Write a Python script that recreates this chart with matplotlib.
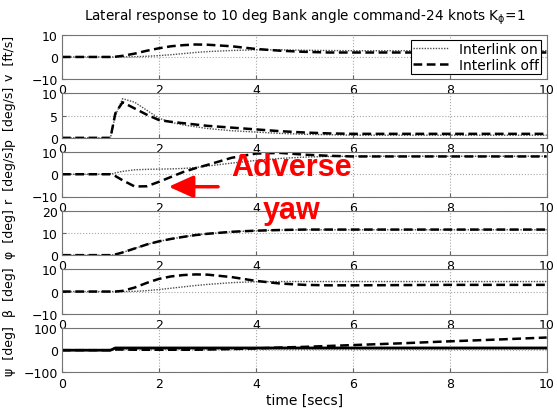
import matplotlib
matplotlib.use("Agg")
import matplotlib.pyplot as plt
import numpy as np

plt.rcParams['font.family'] = ['DejaVu Sans']

# sample times (s)
t = [0, 1.0, 1.1, 1.25, 1.5, 1.75, 2.0, 2.25, 2.5, 2.75, 3.0, 3.5, 4.0, 4.5, 5.0, 5.5, 6, 7, 8, 9, 10]

v_on = [0, 0, 0, 0, 0.1, 0.3, 0.6, 1.0, 1.5, 2.0, 2.4, 2.9, 3.2, 3.2, 3.0, 2.9, 2.8, 2.8, 2.8, 2.8, 2.8]
v_off = [0, 0, 0.1, 0.5, 1.5, 2.8, 3.9, 4.8, 5.3, 5.6, 5.5, 4.8, 3.6, 2.8, 2.3, 2.0, 2.0, 2.0, 2.0, 2.0, 2.0]

p_on = [0, 0, 5.0, 8.8, 8.0, 6.2, 4.4, 3.5, 2.9, 2.5, 2.1, 1.6, 1.3, 1.0, 0.8, 0.7, 0.6, 0.6, 0.6, 0.6, 0.6]
p_off = [0, 0, 5.5, 8.0, 6.6, 5.2, 4.0, 3.6, 3.3, 3.0, 2.7, 2.3, 1.9, 1.5, 1.2, 1.0, 0.9, 0.9, 0.9, 0.9, 0.9]

r_on = [0, 0, 0.6, 1.3, 2.0, 2.2, 2.3, 2.4, 2.6, 3.0, 3.7, 5.0, 6.2, 7.1, 7.7, 8.0, 8.1, 8.1, 8.1, 8.1, 8.1]
r_off = [0, 0, -0.8, -2.7, -5.5, -5.4, -3.4, -1.2, 1.0, 2.7, 4.2, 7.4, 9.3, 9.6, 8.8, 8.3, 8.0, 8.0, 8.0, 8.0, 8.0]

phi_on = [0, 0, 0.3, 1.2, 3.0, 4.8, 6.2, 7.3, 8.2, 9.0, 9.6, 10.5, 11.0, 11.3, 11.4, 11.4, 11.4, 11.4, 11.4, 11.4, 11.4]
phi_off = [0, 0, 0.3, 1.2, 3.0, 4.8, 6.2, 7.3, 8.2, 9.0, 9.6, 10.5, 11.0, 11.3, 11.5, 11.5, 11.5, 11.5, 11.5, 11.5, 11.5]

beta_on = [0, 0, 0, 0, 0.1, 0.4, 0.9, 1.5, 2.1, 2.7, 3.2, 4.0, 4.4, 4.5, 4.5, 4.5, 4.5, 4.5, 4.5, 4.5, 4.5]
beta_off = [0, 0, 0, 0.3, 1.8, 3.9, 5.7, 6.8, 7.4, 7.7, 7.6, 6.5, 4.8, 3.6, 3.0, 2.8, 2.8, 2.9, 3.0, 3.0, 3.0]

psi_on = [0, 0, 6, 6, 6, 6, 6, 6, 6, 6, 6, 6, 6, 6, 6, 6, 6, 6, 6, 6, 6]
psi_off = [0, 0, 3, 3, 2, 2, 2, 2, 2, 2, 3, 5, 8, 12, 15, 19, 23, 31, 40, 48, 57]
psi_cmd = [0, 0, 10, 10, 10, 10, 10, 10, 10, 10, 10, 10, 10, 10, 10, 10, 10, 10, 10, 10, 10]

ylabels = ["v  [ft/s]", "p  [deg/s]", "r  [deg/s]", "\u03c6  [deg]", "\u03b2  [deg]", "\u03c8  [deg]"]
yticks = [[-10, 0, 10], [0, 5, 10], [-10, 0, 10], [0, 10, 20], [-10, 0, 10], [-100, 0, 100]]
on_series = [v_on, p_on, r_on, phi_on, beta_on, psi_on]
off_series = [v_off, p_off, r_off, phi_off, beta_off, psi_off]

W, H = 557, 410
fig = plt.figure(figsize=(W / 100, H / 100), dpi=100)

left, right = 62, 546.7
axes = []
for i in range(6):
    top = 35.7 + i * 58.65
    h = 44.5
    ax = fig.add_axes([left / W, 1 - (top + h) / H, (right - left) / W, h / H])
    ax.plot(t, on_series[i], color='0.3', linestyle=(0, (1, 1)), lw=1.0, label='Interlink on')
    ax.plot(t, off_series[i], color='k', linestyle=(0, (3.5, 1.8)), lw=1.8, label='Interlink off')
    ax.set_xlim(0, 10)
    ax.set_ylim(yticks[i][0], yticks[i][-1])
    ax.set_xticks([0, 2, 4, 6, 8, 10])
    ax.set_yticks(yticks[i])
    ax.grid(True, color='0.65', linestyle=':', lw=0.8)
    ax.tick_params(direction='in', length=3, labelsize=9, pad=3, color='0.4')
    for s in ax.spines.values():
        s.set_color('0.45')
        s.set_linewidth(0.8)
    ax.set_ylabel(ylabels[i], fontsize=9)
    ax.yaxis.set_label_coords(-0.095, 0.5)
    axes.append(ax)

axes[5].plot(t, psi_cmd, color='k', lw=2.0)

axes[0].set_title(r'Lateral response to 10 deg Bank angle command-24 knots K$_\mathregular{\phi}$=1',
                  fontsize=9.8, pad=11)
axes[5].set_xlabel('time [secs]', fontsize=10, labelpad=2)

leg = axes[0].legend(loc='upper right', bbox_to_anchor=(0.988, 0.88), borderaxespad=0,
                     fontsize=10, frameon=True, fancybox=False, framealpha=1,
                     handlelength=2.5, borderpad=0.15, labelspacing=0.1, handletextpad=0.8)
leg.get_frame().set_edgecolor('k')
leg.get_frame().set_linewidth(0.8)

# annotation
fig.text(291.5 / W, 1 - 168 / H, 'Adverse', color='red', fontsize=22, fontweight='bold',
         family='Liberation Sans', ha='center', va='center')
fig.text(291.5 / W, 1 - 211 / H, 'yaw', color='red', fontsize=22, fontweight='bold',
         family='Liberation Sans', ha='center', va='center')
axes[2].annotate('', xy=(2.2, -5.6), xytext=(3.22, -5.6),
                 arrowprops=dict(arrowstyle='-|>,head_length=1.0,head_width=0.45',
                                 color='red', lw=2.5, mutation_scale=15,
                                 shrinkA=0, shrinkB=0),
                 annotation_clip=False)

fig.savefig('out.png', dpi=100)
